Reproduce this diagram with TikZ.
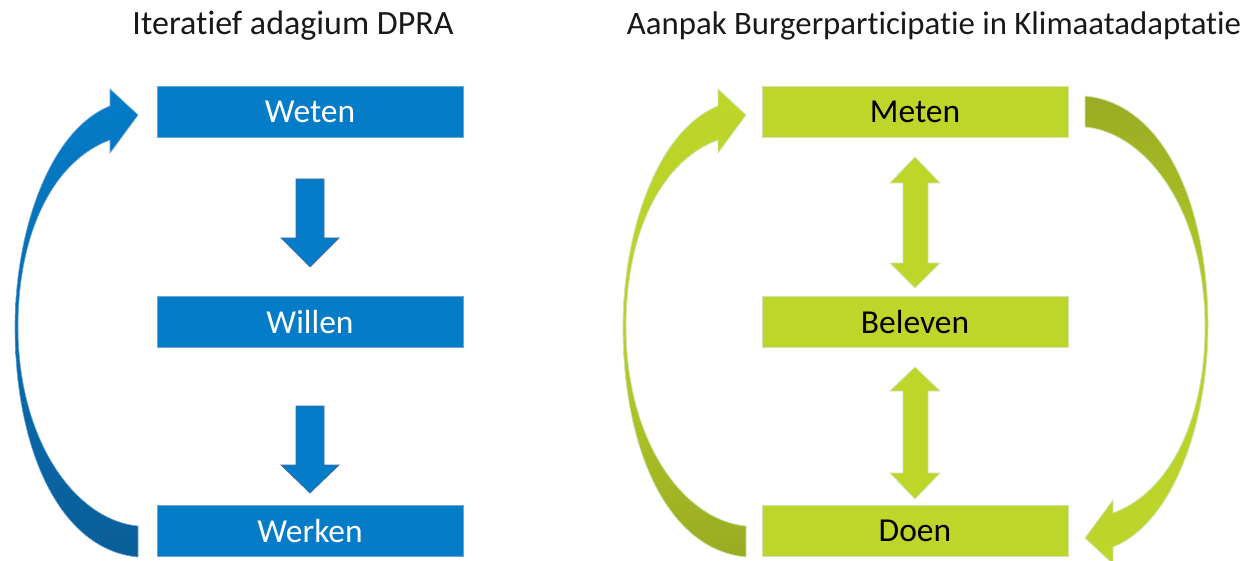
\documentclass[tikz,border=0pt]{standalone}
\usepackage{fontspec}
\setmainfont[Ligatures=NoCommon]{Carlito}
\begin{document}
\begin{tikzpicture}[x=1pt,y=-1pt]
\definecolor{bfill}{RGB}{4,124,200}
\definecolor{bedge}{RGB}{110,165,215}
\definecolor{bdark}{RGB}{10,94,152}
\definecolor{barrowedge}{RGB}{70,105,160}
\definecolor{gfill}{RGB}{190,214,42}
\definecolor{gdark}{RGB}{154,171,34}
\definecolor{gedge}{RGB}{205,228,175}
\tikzset{
  bbox/.style={draw=bedge, line width=0.8pt, fill=bfill, minimum width=306pt, minimum height=51pt, inner sep=0pt, text=white, font=\fontsize{33.5}{33.5}\selectfont},
  gbox/.style={draw=gedge, line width=0.8pt, fill=gfill, minimum width=306pt, minimum height=51pt, inner sep=0pt, text=black, font=\fontsize{33.5}{33.5}\selectfont},
  title/.style={font=\fontsize{34}{34}\selectfont, text=black!90, inner sep=0pt},
  barrow/.style={fill=bfill, draw=barrowedge, line width=0.7pt},
  garrow/.style={fill=gfill, draw=gedge, line width=0.8pt},
}
\useasboundingbox (0,0) rectangle (1249,561);

\node[title] (t1) at (293,26) {Iteratief adagium DPRA};
\node[title, font=\fontsize{32.8}{32.8}\selectfont] (t2) at (934,26) {Aanpak Burgerparticipatie in Klimaatadaptatie};

\node[bbox] (weten) at (310,111.5) {Weten};
\node[bbox] (willen) at (310,321.5) {Willen};
\node[bbox] (werken) at (310,531) {Werken};

\node[gbox] (meten) at (915,111.5) {Meten};
\node[gbox] (beleven) at (915,321.5) {Beleven};
\node[gbox] (doen) at (915,531) {Doen};

% straight down arrows (left)
\path[barrow] (296,179) -- (324,179) -- (324,238) -- (339,238) -- (310,267) -- (281,238) -- (296,238) -- cycle;
\path[barrow] (296,406) -- (324,406) -- (324,465) -- (339,465) -- (310,493) -- (281,465) -- (296,465) -- cycle;

% double arrows (right)
\path[garrow] (915,157) -- (940,183) -- (928,183) -- (928,263) -- (940,263) -- (915,288) -- (890,263) -- (903,263) -- (903,183) -- (890,183) -- cycle;
\path[garrow] (915,367) -- (940,391) -- (928,391) -- (928,473) -- (940,473) -- (915,499) -- (890,473) -- (903,473) -- (903,391) -- (890,391) -- cycle;

% curved blue arrow
\path[draw=bedge, line width=0.6pt, top color=bfill, bottom color=bdark]
  (138,557) .. controls (60,550) and (15,450) .. (15,327)
  .. controls (15,230) and (50,130) .. (110,106)
  -- (110,89) -- (138,115) -- (110,153) -- (110,140)
  .. controls (55,160) and (18,230) .. (18,327)
  .. controls (18,440) and (75,520) .. (138,526) -- cycle;

% curved green arrow left
\path[draw=gedge, line width=0.8pt, top color=gfill, bottom color=gdark, middle color=gfill!85!gdark]
  (746,557) .. controls (668,550) and (623,450) .. (623,327)
  .. controls (623,230) and (658,130) .. (718,106)
  -- (718,89) -- (746,115) -- (718,153) -- (718,140)
  .. controls (663,160) and (626,230) .. (626,327)
  .. controls (626,440) and (683,520) .. (746,526) -- cycle;

% curved green arrow right
\path[draw=gedge, line width=0.8pt, top color=gdark, bottom color=gfill, middle color=gfill!85!gdark]
  (1085,96) .. controls (1163,103) and (1208,203) .. (1208,326)
  .. controls (1208,423) and (1173,523) .. (1113,547)
  -- (1113,564) -- (1085,538) -- (1113,500) -- (1113,513)
  .. controls (1168,493) and (1205,423) .. (1205,326)
  .. controls (1205,213) and (1148,133) .. (1085,127) -- cycle;
\end{tikzpicture}
\end{document}
